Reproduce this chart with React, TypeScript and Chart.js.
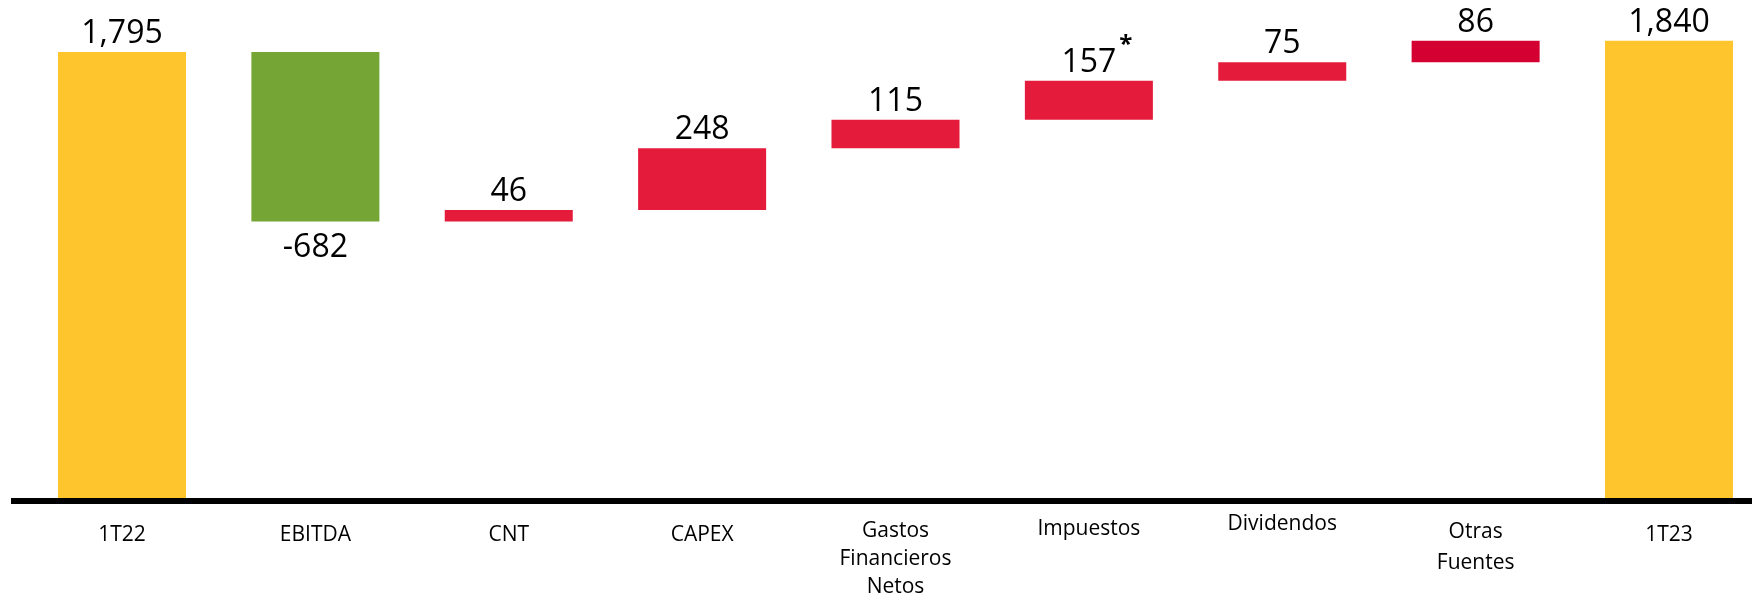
import React, { useEffect, useRef } from "react";
import { Chart, registerables } from "chart.js";

Chart.register(...registerables);

// ---- data ----
const categories: (string | string[])[] = [
  "1T22",
  "EBITDA",
  "CNT",
  "CAPEX",
  ["Gastos", "Financieros", "Netos"],
  "Impuestos",
  "Dividendos",
  ["Otras", "Fuentes"],
  "1T23",
];
const values = [1795, -682, 46, 248, 115, 157, 75, 86, 1840];
const isTotal = [true, false, false, false, false, false, false, false, true];
const valueLabels = ["1,795", "-682", "46", "248", "115", "157", "75", "86", "1,840"];
const valueNotes = ["", "", "", "", "", "*", "", "", ""];
const barColors = [
  "#FFC52D",
  "#75A534",
  "#E41B3B",
  "#E41B3B",
  "#E41B3B",
  "#E41B3B",
  "#E41B3B",
  "#D50032",
  "#FFC52D",
];

// ---- styles ----
const tickLineHeights = [37, 37, 37, 37, 28, 24, 15, 31, 36];
const FONT = "'Open Sans', 'Noto Sans', sans-serif";

function buildFloating(): [number, number][] {
  const out: [number, number][] = [];
  let running = 0;
  values.forEach((v, i) => {
    if (isTotal[i]) {
      out.push([0, v]);
      running = v;
    } else {
      out.push([running, running + v]);
      running += v;
    }
  });
  return out;
}

const axisLinePlugin = {
  id: "axisLine",
  afterDatasetsDraw(chart: any) {
    const { ctx, chartArea, width } = chart;
    ctx.save();
    ctx.fillStyle = "#000000";
    ctx.fillRect(11, chartArea.bottom, width - 11, 6);
    ctx.restore();
  },
};

const valueLabelPlugin = {
  id: "valueLabels",
  afterDatasetsDraw(chart: any) {
    const { ctx } = chart;
    const meta = chart.getDatasetMeta(0);
    ctx.save();
    ctx.fillStyle = "#000000";
    ctx.textAlign = "center";
    ctx.textBaseline = "alphabetic";
    meta.data.forEach((bar: any, i: number) => {
      const { x, y, base } = bar.getProps(["x", "y", "base"], true);
      const top = Math.min(y, base);
      const bottom = Math.max(y, base);
      ctx.font = `32px ${FONT}`;
      const txt = valueLabels[i];
      const baseline = values[i] < 0 ? bottom + 36 : top - 9;
      ctx.fillText(txt, x, baseline);
      if (valueNotes[i]) {
        const w = ctx.measureText(txt).width;
        ctx.font = `bold 24px ${FONT}`;
        ctx.textAlign = "left";
        ctx.fillText(valueNotes[i], x + w / 2 + 3, baseline - 20);
        ctx.textAlign = "center";
      }
    });
    ctx.restore();
  },
};

export default function App() {
  const ref = useRef<HTMLCanvasElement>(null);

  useEffect(() => {
    if (!ref.current) return;
    const chart = new Chart(ref.current, {
      type: "bar",
      data: {
        labels: categories as any,
        datasets: [
          {
            data: buildFloating() as any,
            backgroundColor: barColors,
            borderWidth: 0,
            barPercentage: 0.662,
            categoryPercentage: 1,
            clip: false as any,
          },
        ],
      },
      options: {
        responsive: false,
        animation: false,
        layout: { padding: { left: 122, right: 83, top: 1, bottom: 0 } },
        plugins: {
          legend: { display: false },
          tooltip: { enabled: false },
        },
        scales: {
          x: {
            offset: false,
            grid: { display: false, drawTicks: false },
            border: { display: false },
            ticks: {
              padding: 19,
              color: "#000000",
              maxRotation: 0,
              autoSkip: false,
              font: (ctx: any) => ({
                family: FONT,
                size: 21,
                lineHeight: `${tickLineHeights[ctx.index] ?? 28}px`,
              }),
            },
            afterFit(scale: any) {
              scale.height = 97;
            },
          },
          y: {
            display: false,
            min: 0,
            max: 2000,
          },
        },
      },
      plugins: [axisLinePlugin, valueLabelPlugin],
    });
    return () => chart.destroy();
  }, []);

  return (
    <div style={{ position: "absolute", left: 0, top: 0, width: 1752, height: 595, background: "#ffffff" }}>
      <canvas ref={ref} width={1752} height={595} style={{ display: "block" }} />
    </div>
  );
}
